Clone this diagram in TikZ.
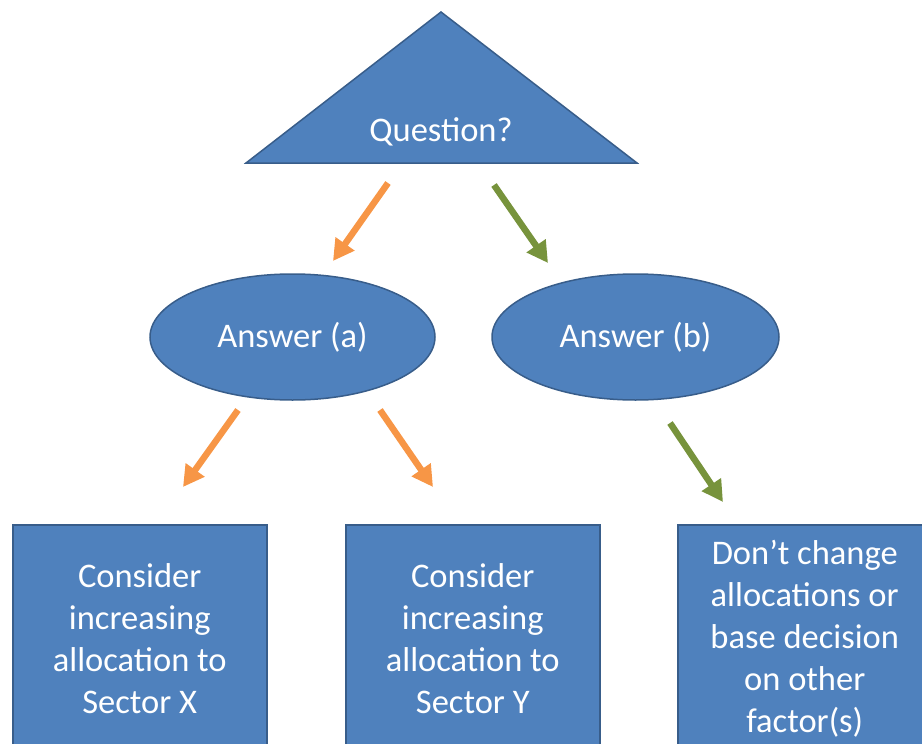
\documentclass[tikz,border=0pt]{standalone}
\usepackage{fontspec}
\setmainfont{Carlito}
\usetikzlibrary{arrows.meta,shapes.geometric}
\definecolor{fillblue}{HTML}{4F81BD}
\definecolor{edgeblue}{HTML}{385D8A}
\definecolor{arrorange}{HTML}{F79646}
\definecolor{arrgreen}{HTML}{77933C}
\begin{document}
\begin{tikzpicture}[x=1pt,y=-1pt,
  shapestyle/.style={fill=fillblue,draw=edgeblue,line width=1.5pt},
  lbl/.style={text=white,font=\fontsize{34.5}{42}\selectfont,align=center},
  ellnode/.style={shapestyle,lbl,ellipse,inner sep=0pt,minimum width=285pt,minimum height=126pt},
  boxnode/.style={shapestyle,rectangle,inner sep=0pt,minimum width=254pt,minimum height=228pt,anchor=north west},
  arr/.style={line width=6.5pt,-{Triangle[length=21pt,width=22pt]}},
  orangearr/.style={arr,draw=arrorange},
  greenarr/.style={arr,draw=arrgreen}]
\useasboundingbox (0,0) rectangle (922,744);
\clip (0,0) rectangle (922,744);
% triangle
\coordinate (tl) at (246,163);
\coordinate (tt) at (441,12);
\coordinate (tr) at (637,163);
\filldraw[shapestyle,line join=miter] (tl) -- (tt) -- (tr) -- cycle;
\node[lbl,anchor=base] (q) at (441,141) {Question?};
% ellipses
\node[ellnode] (ansA) at (292.5,337) {Answer (a)};
\node[ellnode,minimum width=287pt] (ansB) at (635.5,337) {Answer (b)};
% boxes
\node[boxnode] (box1) at (12,524) {};
\node[boxnode] (box2) at (345,524) {};
\node[boxnode] (box3) at (677,524) {};
\node[lbl] (t1) at (box1.center) {Consider\\increasing\\allocation to\\Sector X};
\node[lbl] (t2) at (box2.center) {Consider\\increasing\\allocation to\\Sector Y};
\node[lbl] (t3) at (box3.center) {Don’t change\\allocations or\\base decision\\on other\\factor(s)};
% arrow coordinates
\coordinate (qa1) at (388,183); \coordinate (qa2) at (333,261);
\coordinate (qb1) at (494,185); \coordinate (qb2) at (548,263);
\coordinate (aa1) at (238,410); \coordinate (aa2) at (183,487);
\coordinate (ab1) at (380,410); \coordinate (ab2) at (433,487);
\coordinate (ba1) at (670,423); \coordinate (ba2) at (723,502);
\draw[orangearr] (qa1) -- (qa2);
\draw[greenarr] (qb1) -- (qb2);
\draw[orangearr] (aa1) -- (aa2);
\draw[orangearr] (ab1) -- (ab2);
\draw[greenarr] (ba1) -- (ba2);
\end{tikzpicture}
\end{document}
